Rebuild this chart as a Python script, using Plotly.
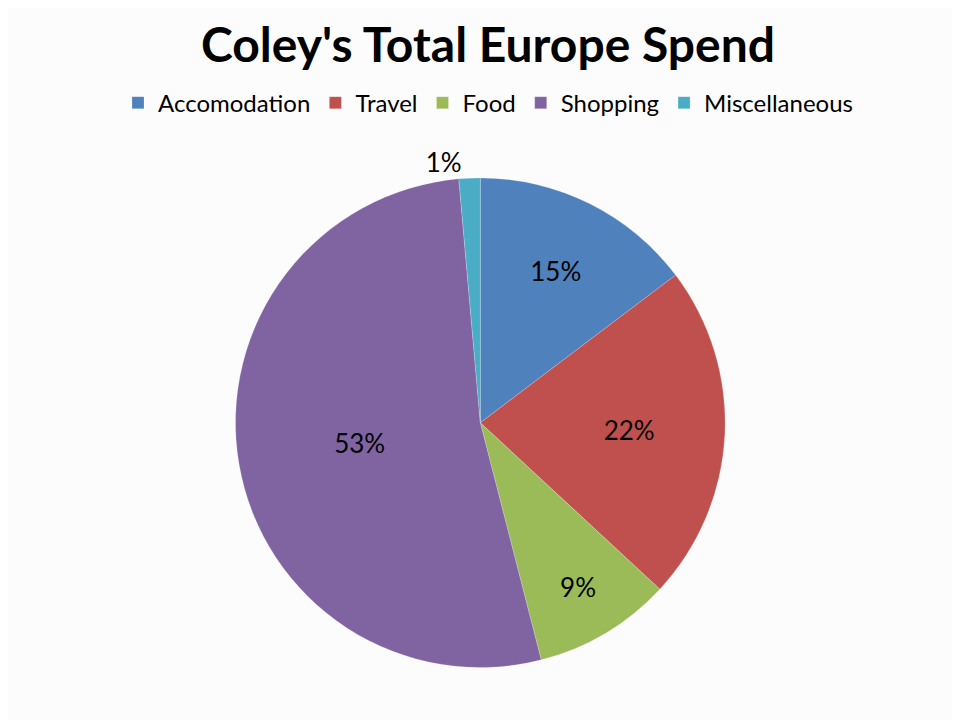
import plotly.graph_objects as go

categories = ["Accomodation", "Travel", "Food", "Shopping", "Miscellaneous"]
share = [14.7, 22.2, 9.1, 52.6, 1.4]
label_text = ["15%", "22%", "9%", "53%", "1%"]
label_pos = ["inside", "inside", "inside", "inside", "outside"]

# excel 2007 palette
colors = ["#4F81BD", "#C0504D", "#9BBB59", "#8064A2", "#4BACC6"]

fig = go.Figure(go.Pie(
    labels=categories,
    values=share,
    text=label_text,
    textinfo="text",
    textposition=label_pos,
    insidetextorientation="horizontal",
    textfont=dict(family="Lato", size=26, color="black"),
    marker=dict(colors=colors, line=dict(color="rgba(255,255,255,0.4)", width=0.5)),
    sort=False,
    direction="clockwise",
    rotation=0,
    domain=dict(x=[0.237, 0.747], y=[0.084, 0.764]),
))

fig.update_layout(
    width=960,
    height=720,
    paper_bgcolor="#FCFCFC",
    plot_bgcolor="#FCFCFC",
    font=dict(family="Lato", color="black"),
    title=dict(
        text="<b>Coley's Total Europe Spend</b>",
        x=0.5, xanchor="center",
        y=0.948, yanchor="middle",
        font=dict(family="Lato", size=48, color="black"),
    ),
    legend=dict(
        orientation="h",
        x=0.5, xanchor="center",
        y=0.868, yanchor="middle",
        font=dict(family="Lato", size=24, color="black"),
        traceorder="normal",
    ),
    margin=dict(l=0, r=0, t=0, b=0),
)

fig.write_html("out.html")
